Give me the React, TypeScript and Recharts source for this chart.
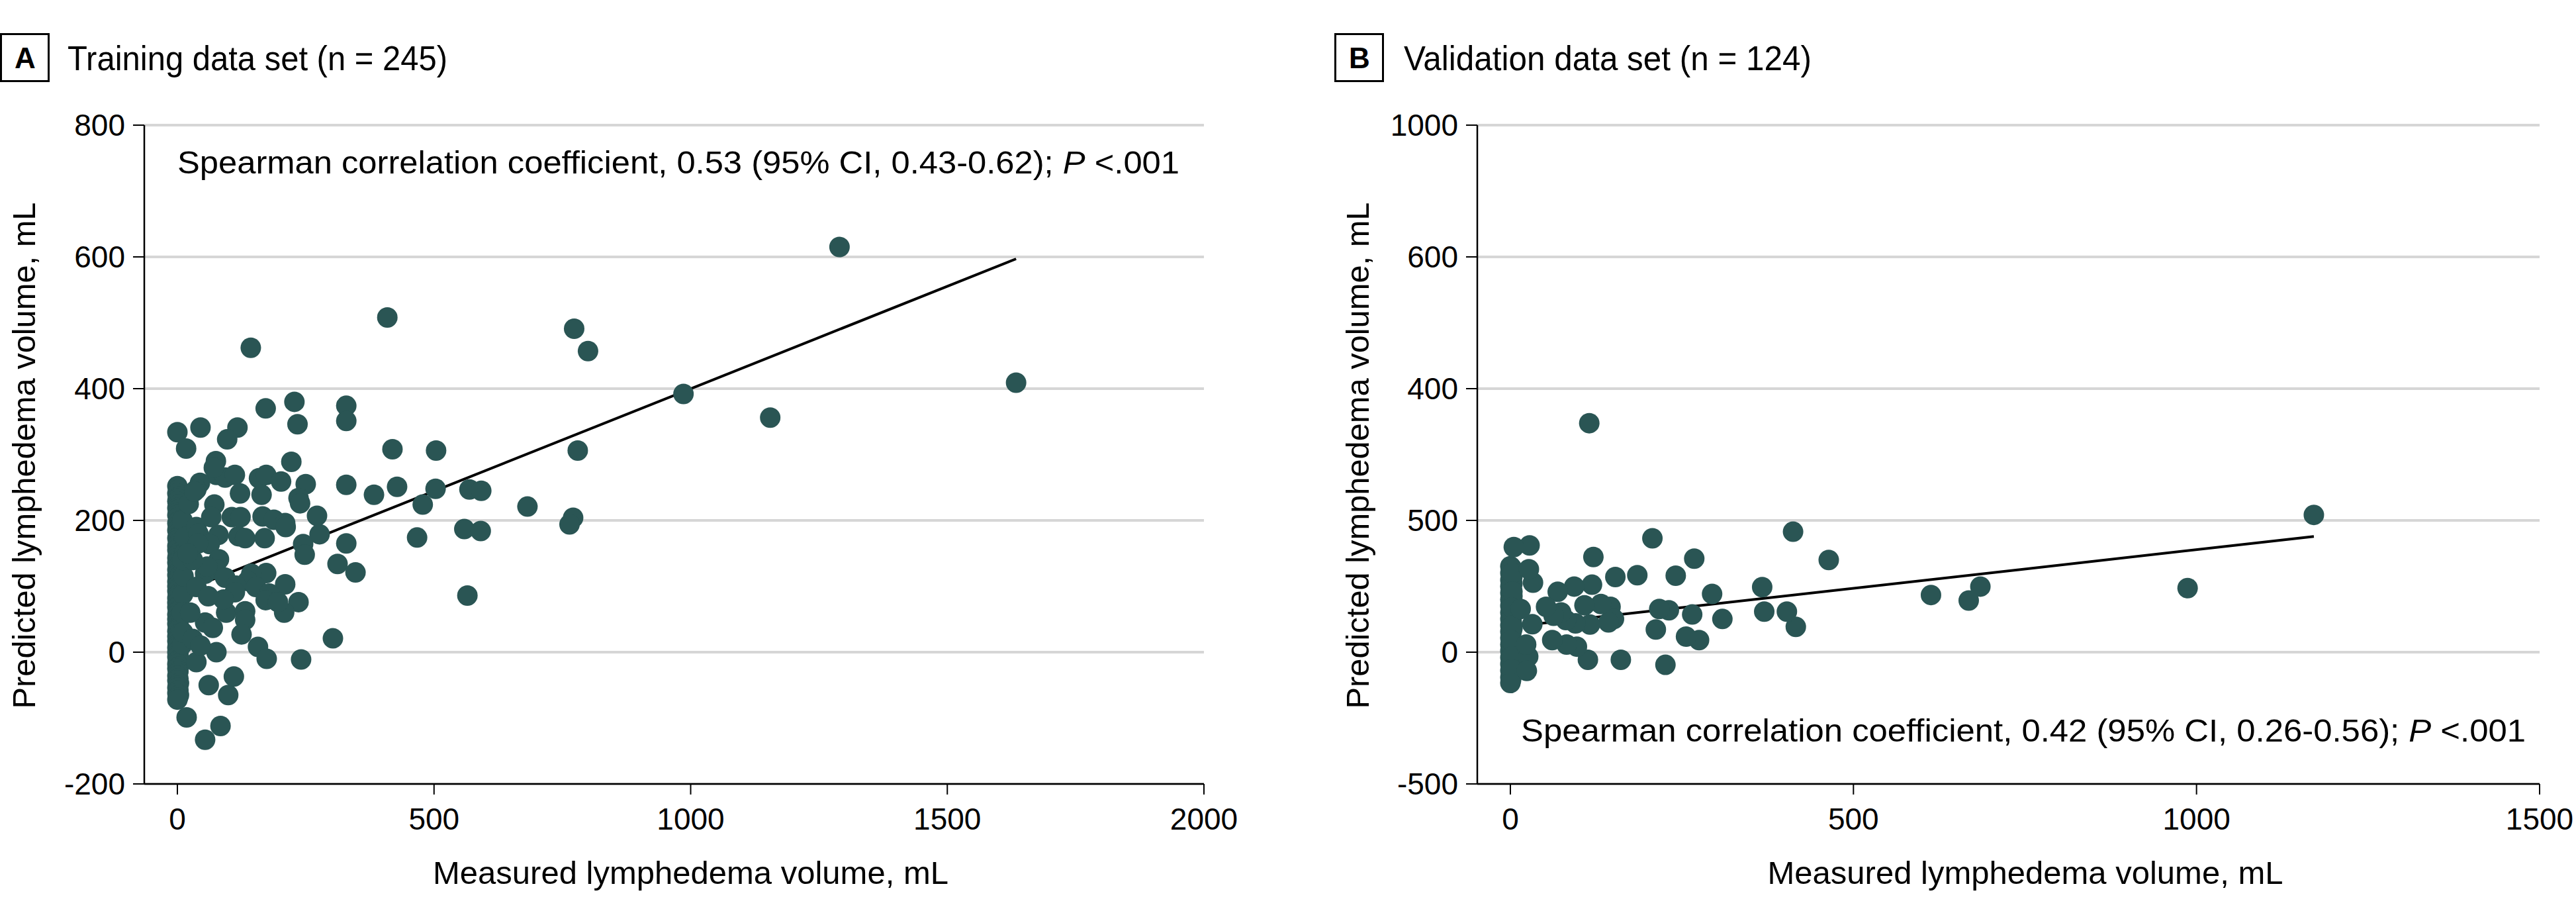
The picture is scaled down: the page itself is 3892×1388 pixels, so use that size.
import { ScatterChart, Scatter, XAxis, YAxis, CartesianGrid } from "recharts";

const FONT = '"Liberation Sans", Arial, Helvetica, sans-serif';
const DOT = "#2a5554";
const GRID = "#d6d6d6";

// ---- Panel A: training data set ----
const A_X_TICKS = [0, 500, 1000, 1500, 2000];
const A_Y_TICKS = [-200, 0, 200, 400, 600, 800];

// [measured, predicted]
const A_POINTS: [number, number][] = [
  [1290, 615], [1634, 409], [1155, 356], [986, 392], [773, 491], [800, 457],
  [780, 306], [771, 204], [764, 194], [682, 221], [569, 247], [592, 245],
  [559, 187], [591, 184], [565, 86], [503, 248], [478, 224], [467, 174],
  [504, 306], [419, 308], [409, 508], [428, 251], [383, 239], [329, 374],
  [329, 351], [329, 254], [329, 165], [312, 134], [347, 121], [303, 21],
  [277, 179], [272, 207], [241, -11], [250, 255], [236, 234], [239, 226],
  [245, 164], [248, 148], [228, 380], [234, 346], [222, 289], [172, 370],
  [143, 462], [117, 341], [97, 323], [45, 341], [0, 334], [17, 309],
  [75, 290], [76, 269], [93, 265], [112, 269], [159, 264], [173, 269],
  [202, 259], [122, 241], [164, 239], [72, 224], [44, 257], [37, 247],
  [22, 225], [33, 244], [71, 280], [210, 103], [236, 76], [208, 60],
  [173, 120], [106, 205], [123, 205], [166, 206], [188, 201], [210, 196],
  [211, 190], [119, 176], [132, 173], [80, 178], [170, 173], [37, 190],
  [41, 180], [63, 164], [81, 141], [54, 119], [75, 126], [93, 113],
  [144, 119], [137, 108], [114, 101], [153, 99], [179, 89], [172, 79],
  [196, 76], [95, 60], [132, 62], [132, 49], [125, 27], [54, 45],
  [69, 37], [76, 0], [37, -15], [157, 8], [174, -10], [110, -37],
  [61, -50], [99, -65], [18, -99], [84, -112], [54, -133], [112, 91],
  [37, 99], [58, 130], [90, 80], [60, 85], [40, 165], [66, 205],
  [30, 140], [25, 60], [30, 20], [45, 10], [20, 150],
];

// dense column of cases with measured volume near 0
const A_COLUMN: [number, number][] = [
  [0, 252], [2, 247], [0, 241], [3, 236], [1, 233], [0, 229], [2, 224], [0, 219],
  [3, 217], [1, 212], [0, 208], [2, 205], [3, 199], [0, 196], [1, 192], [3, 188],
  [0, 185], [2, 181], [3, 176], [0, 173], [1, 170], [3, 166], [0, 161], [2, 158],
  [0, 155], [3, 151], [1, 147], [0, 143], [3, 140], [0, 136], [2, 131], [1, 128],
  [0, 125], [2, 121], [0, 117], [3, 114], [1, 111], [0, 107], [3, 103], [0, 100],
  [2, 97], [0, 93], [3, 89], [1, 86], [0, 82], [3, 79], [0, 75], [2, 71],
  [0, 68], [3, 64], [1, 61], [0, 57], [3, 53], [0, 50], [2, 46], [0, 43],
  [3, 39], [1, 35], [0, 32], [3, 28], [0, 24], [2, 21], [0, 17], [3, 14],
  [1, 10], [0, 7], [3, 3], [0, 0], [2, -3], [0, -7], [3, -11], [1, -14],
  [0, -18], [3, -22], [0, -25], [2, -29], [1, -32], [0, -36], [2, -40], [0, -43],
  [3, -47], [1, -51], [0, -54], [2, -58], [0, -62], [3, -65], [1, -69], [0, -72],
  [10, 12], [11, 88], [14, 150], [10, 200], [9, 60], [12, 115], [15, 175], [11, 30],
  [10, 140],
];

const A_FIT: [number, number][] = [[0, 89], [1634, 597]];

// ---- Panel B: validation data set ----
const B_X_TICKS = [0, 500, 1000, 1500];
const B_Y_TICKS = [-500, 0, 500, 1000, 1500, 2000];
const B_Y_TICK_LABELS = ["-500", "0", "500", "400", "600", "1000"];

const B_POINTS: [number, number][] = [
  [1171, 521], [987, 243], [685, 249], [668, 196], [613, 217], [464, 350],
  [412, 457], [416, 96], [403, 154], [370, 154], [367, 247], [309, 126],
  [294, 221], [275, 46], [256, 59], [265, 143], [268, 355], [241, 290],
  [231, 159], [217, 164], [212, 86], [226, -48], [207, 432], [185, 292],
  [153, 285], [161, -29], [146, 172], [151, 126], [143, 113], [132, 183],
  [121, 361], [119, 256], [116, 105], [115, 869], [113, -29], [108, 178],
  [97, 21], [95, 109], [93, 249], [82, 29], [81, 122], [74, 151],
  [69, 229], [63, 138], [61, 46], [52, 172], [33, 264], [32, 106],
  [28, 405], [27, 315], [26, -17], [24, -71], [23, 29], [15, 164],
  [5, 399], [0, -117],
];

const B_COLUMN: [number, number][] = [
  [0, 326], [1, 314], [0, 300], [3, 288], [0, 274], [1, 262], [0, 250], [2, 238],
  [0, 225], [3, 212], [0, 200], [1, 188], [0, 176], [3, 163], [0, 150], [1, 138],
  [0, 126], [2, 113], [0, 101], [3, 90], [0, 78], [1, 66], [0, 54], [3, 41],
  [0, 29], [1, 17], [0, 5], [2, -8], [0, -20], [3, -33], [0, -45], [1, -58],
  [0, -70], [3, -83], [0, -95], [1, -106], [2, 320], [3, 260], [1, 205], [3, 140],
  [2, 80], [3, 20], [1, -40], [2, -90], [3, 300], [3, 230], [2, 170], [3, 100],
  [1, 45], [3, -15], [2, -65],
];

const B_FIT: [number, number][] = [[0, 96], [1171, 439]];

const toXY = (pts: [number, number][]) => pts.map(([x, y]) => ({ x, y }));

const Dot = (props: any) => <circle cx={props.cx} cy={props.cy} r={15.5} fill={DOT} />;
const NoDot = () => <g />;

const axisLine = { stroke: "#000", strokeWidth: 2.5 };
const tickLine = { stroke: "#000", strokeWidth: 2 };
const tickStyle = { fill: "#000", fontSize: 46, fontFamily: FONT };

function Panel(props: {
  points: [number, number][];
  fit: [number, number][];
  width: number;
  yAxisWidth: number;
  right: number;
  xDomain: [number, number];
  xTicks: number[];
  yDomain: [number, number];
  yTicks: number[];
  yFormat?: (v: number) => string;
}) {
  return (
    <ScatterChart
      width={props.width}
      height={1388}
      margin={{ top: 189, right: props.right, bottom: 0, left: 0 }}
    >
      <CartesianGrid vertical={false} stroke={GRID} strokeWidth={4} />
      <XAxis
        type="number"
        dataKey="x"
        domain={props.xDomain}
        ticks={props.xTicks}
        allowDataOverflow
        interval={0}
        height={204}
        tickSize={16}
        tickMargin={20}
        axisLine={axisLine}
        tickLine={tickLine}
        tick={tickStyle}
      />
      <YAxis
        type="number"
        dataKey="y"
        domain={props.yDomain}
        ticks={props.yTicks}
        allowDataOverflow
        interval={0}
        width={props.yAxisWidth}
        tickSize={17}
        tickMargin={12}
        axisLine={axisLine}
        tickLine={tickLine}
        tick={tickStyle}
        tickFormatter={props.yFormat}
      />
      <Scatter
        data={toXY(props.fit)}
        line={{ stroke: "#000", strokeWidth: 4 }}
        shape={NoDot}
        isAnimationActive={false}
      />
      <Scatter data={toXY(props.points)} shape={Dot} isAnimationActive={false} />
    </ScatterChart>
  );
}

export default function App() {
  const txt = { fontFamily: FONT, fill: "#000" };
  return (
    <div
      style={{
        position: "absolute",
        left: 0,
        top: 0,
        width: 3892,
        height: 1388,
        background: "#fff",
        overflow: "hidden",
      }}
    >
      <div style={{ position: "absolute", left: 0, top: 0 }}>
        <Panel
          points={[...A_COLUMN, ...A_POINTS]}
          fit={A_FIT}
          width={1900}
          yAxisWidth={218}
          right={81}
          xDomain={[-64.5, 2000]}
          xTicks={A_X_TICKS}
          yDomain={[-200, 800]}
          yTicks={A_Y_TICKS}
        />
      </div>
      <div style={{ position: "absolute", left: 2000, top: 0 }}>
        <Panel
          points={[...B_COLUMN, ...B_POINTS]}
          fit={B_FIT}
          width={1892}
          yAxisWidth={232}
          right={55}
          xDomain={[-48.2, 1500]}
          xTicks={B_X_TICKS}
          yDomain={[-500, 2000]}
          yTicks={B_Y_TICKS}
          yFormat={(v: number) => B_Y_TICK_LABELS[B_Y_TICKS.indexOf(v)] ?? String(v)}
        />
      </div>

      <svg
        width={3892}
        height={1388}
        style={{ position: "absolute", left: 0, top: 0, pointerEvents: "none" }}
      >
        {/* panel A labels */}
        <rect x={1.5} y={51.5} width={72} height={71} fill="none" stroke="#000" strokeWidth={3} />
        <text x={38} y={103} textAnchor="middle" fontSize={44} fontWeight="bold" {...txt}>A</text>
        <text x={102} y={106} fontSize={52} textLength={574} lengthAdjust="spacingAndGlyphs" {...txt}>
          Training data set (n = 245)
        </text>
        <text x={268} y={262} fontSize={48} textLength={1514} lengthAdjust="spacingAndGlyphs" {...txt}>
          Spearman correlation coefficient, 0.53 (95% CI, 0.43-0.62); <tspan fontStyle="italic">P</tspan> &lt;.001
        </text>
        <text x={1043.5} y={1335} textAnchor="middle" fontSize={49} textLength={779} lengthAdjust="spacingAndGlyphs" {...txt}>
          Measured lymphedema volume, mL
        </text>
        <text
          transform="translate(53,688) rotate(-90)"
          textAnchor="middle"
          fontSize={49}
          textLength={765}
          lengthAdjust="spacingAndGlyphs"
          {...txt}
        >
          Predicted lymphedema volume, mL
        </text>

        {/* panel B labels */}
        <rect x={2017.5} y={51.5} width={72} height={71} fill="none" stroke="#000" strokeWidth={3} />
        <text x={2054} y={103} textAnchor="middle" fontSize={44} fontWeight="bold" {...txt}>B</text>
        <text x={2121} y={106} fontSize={52} textLength={616} lengthAdjust="spacingAndGlyphs" {...txt}>
          Validation data set (n = 124)
        </text>
        <text x={2298} y={1120} fontSize={48} textLength={1518} lengthAdjust="spacingAndGlyphs" {...txt}>
          Spearman correlation coefficient, 0.42 (95% CI, 0.26-0.56); <tspan fontStyle="italic">P</tspan> &lt;.001
        </text>
        <text x={3060} y={1335} textAnchor="middle" fontSize={49} textLength={779} lengthAdjust="spacingAndGlyphs" {...txt}>
          Measured lymphedema volume, mL
        </text>
        <text
          transform="translate(2068,688) rotate(-90)"
          textAnchor="middle"
          fontSize={49}
          textLength={765}
          lengthAdjust="spacingAndGlyphs"
          {...txt}
        >
          Predicted lymphedema volume, mL
        </text>
      </svg>
    </div>
  );
}
